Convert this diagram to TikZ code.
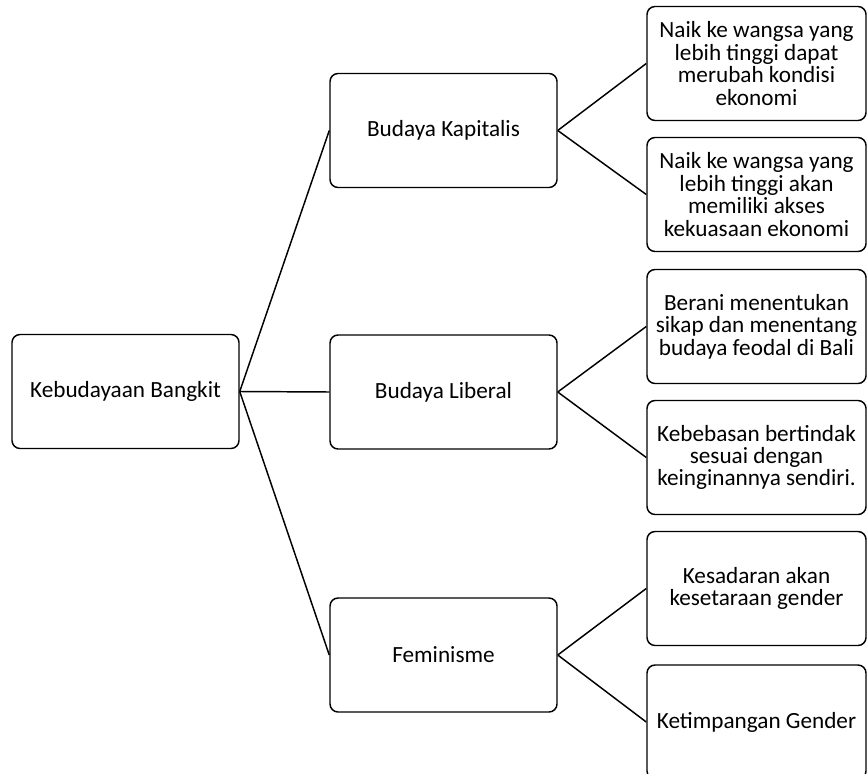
\documentclass[tikz,border=0pt]{standalone}
\usepackage{fontspec}
\setmainfont{Carlito}
\begin{document}
\begin{tikzpicture}[x=0.75pt,y=-0.75pt,
        kotak/.style={draw,rounded corners=6pt,line width=1.1pt,align=center,inner sep=0pt,
            font=\fontsize{17.4}{16.8}\selectfont},
        induk/.style={kotak,minimum width=170.25pt,minimum height=85.5pt},
        daun/.style={kotak,minimum width=164.25pt,minimum height=85.5pt},
        garis/.style={line width=1.1pt}]
            \useasboundingbox (0,0) rectangle (868,774);
            \node [induk] (akar) at (125.5, 391.5) {Kebudayaan Bangkit};
            \node [induk] (kapitalis) at (443.5, 130.5) {Budaya Kapitalis};
            \node [induk] (liberal) at (443.5, 392) {Budaya Liberal};
            \node [induk] (feminisme) at (443.5, 655) {Feminisme};
            \node [daun] (naik1) at (756.5, 63.5) {Naik ke wangsa yang\\lebih tinggi dapat\\merubah kondisi\\ekonomi};
            \node [daun] (naik2) at (756.5, 194.5) {Naik ke wangsa yang\\lebih tinggi akan\\memiliki akses\\kekuasaan ekonomi};
            \node [daun] (berani) at (756.5, 326.5) {Berani menentukan\\sikap dan menentang\\budaya feodal di Bali};
            \node [daun] (bebas) at (756.5, 457.5) {Kebebasan bertindak\\sesuai dengan\\keinginannya sendiri.};
            \node [daun] (sadar) at (756.5, 588.5) {Kesadaran akan\\kesetaraan gender};
            \node [daun] (timpang) at (756.5, 722) {Ketimpangan Gender};
            \draw [garis] (akar.east) -- (kapitalis.west);
            \draw [garis] (akar.east) -- (liberal.west);
            \draw [garis] (akar.east) -- (feminisme.west);
            \draw [garis] (kapitalis.east) -- (naik1.west);
            \draw [garis] (kapitalis.east) -- (naik2.west);
            \draw [garis] (liberal.east) -- (berani.west);
            \draw [garis] (liberal.east) -- (bebas.west);
            \draw [garis] (feminisme.east) -- (sadar.west);
            \draw [garis] (feminisme.east) -- (timpang.west);
        \end{tikzpicture}
\end{document}
